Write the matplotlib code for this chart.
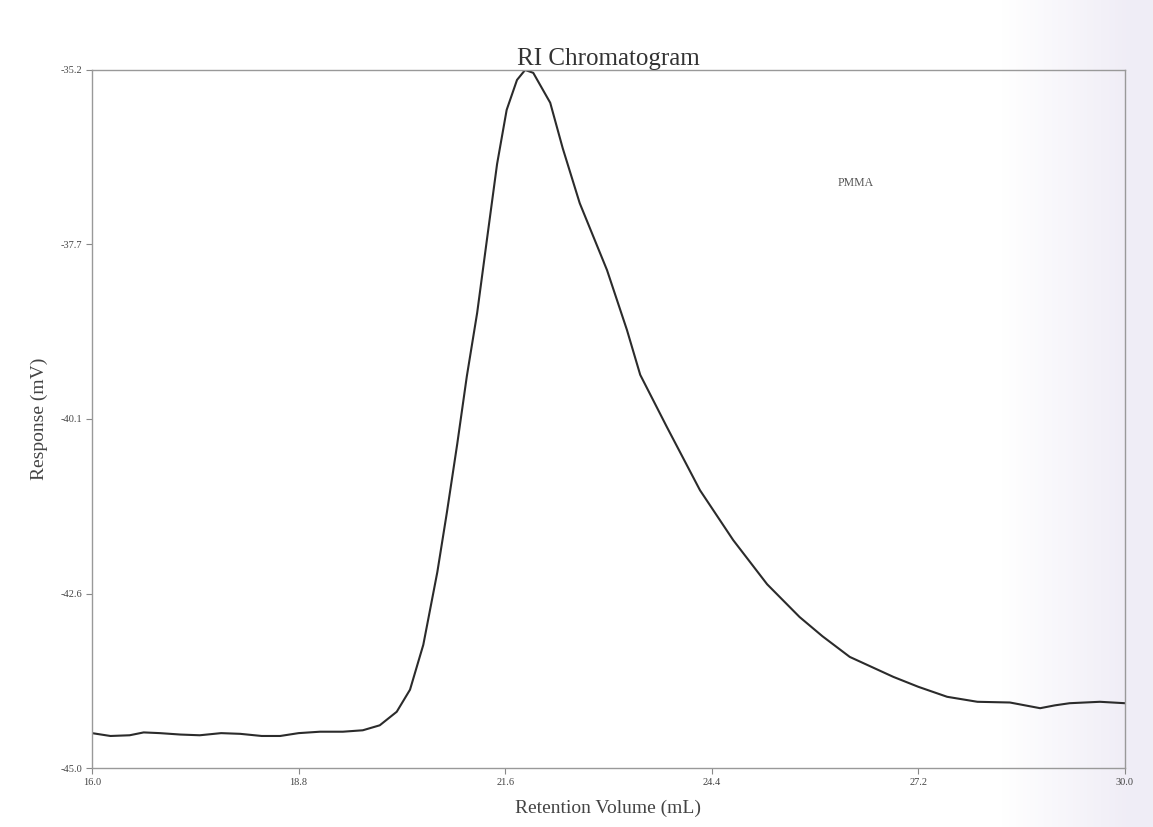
import numpy as np
import matplotlib
matplotlib.use("Agg")
import matplotlib.pyplot as plt

# Retention volume (mL) and RI detector response (mV)
volume = [16.00, 16.25, 16.51, 16.70, 16.92, 17.20, 17.46, 17.75, 18.01, 18.30,
          18.55, 18.80, 19.09, 19.40, 19.67, 19.90, 20.13, 20.31, 20.49, 20.68,
          20.81, 20.95, 21.08, 21.22, 21.35, 21.49, 21.62, 21.76, 21.87, 21.98,
          22.21, 22.38, 22.61, 22.98, 23.25, 23.43, 23.79, 24.24, 24.69, 25.15,
          25.59, 25.90, 26.27, 26.86, 27.20, 27.59, 28.00, 28.44, 28.85, 29.05,
          29.25, 29.66, 30.00]
response = [-44.51, -44.55, -44.54, -44.50, -44.51, -44.53, -44.54, -44.51, -44.52, -44.55,
            -44.55, -44.51, -44.49, -44.49, -44.47, -44.40, -44.21, -43.90, -43.27, -42.25,
            -41.41, -40.45, -39.50, -38.61, -37.60, -36.52, -35.76, -35.34, -35.20, -35.24,
            -35.66, -36.30, -37.07, -38.01, -38.85, -39.48, -40.21, -41.10, -41.80, -42.42,
            -42.88, -43.15, -43.44, -43.72, -43.86, -44.00, -44.07, -44.08, -44.16, -44.12,
            -44.09, -44.07, -44.09]

x_ticks = [16.0, 18.8, 21.6, 24.4, 27.2, 30.0]
y_ticks = [-45.0, -42.6, -40.1, -37.7, -35.2]
y_tick_pos = [-45.0, -42.55, -40.1, -37.65, -35.2]

serif = ["Liberation Serif", "DejaVu Serif"]
plt.rcParams["font.family"] = serif

fig = plt.figure(figsize=(11.53, 8.27), dpi=100)
fig.patch.set_facecolor("white")

# soft tint along the right edge of the sheet
bg = fig.add_axes([0, 0, 1, 1], zorder=-10)
grad = np.clip((np.linspace(0, 1, 400) - 0.87) / 0.11, 0, 1)
img = np.ones((1, 400, 3))
img[0, :, 0] -= 0.06 * grad
img[0, :, 1] -= 0.07 * grad
img[0, :, 2] -= 0.035 * grad
bg.imshow(img, aspect="auto", extent=[0, 1, 0, 1])
bg.set_axis_off()

ax = fig.add_axes([0.0798, 0.0713, 0.8959, 0.8441])
ax.patch.set_alpha(0)
ax.plot(volume, response, color="#2b2b2b", lw=1.5)

ax.set_xlim(16.0, 30.0)
ax.set_ylim(-45.0, -35.2)
ax.set_xticks(x_ticks)
ax.set_xticklabels([f"{v:.1f}" for v in x_ticks], fontsize=7.5, color="#444444")
ax.set_yticks(y_tick_pos)
ax.set_yticklabels([f"{v:.1f}" for v in y_ticks], fontsize=7.5, color="#444444")
ax.tick_params(direction="out", length=4, width=0.8, color="#888888", pad=3)
for s in ax.spines.values():
    s.set_color("#999999")
    s.set_linewidth(1.0)

ax.set_title("RI Chromatogram", fontsize=18, color="#333333", pad=2)
ax.set_xlabel("Retention Volume (mL)", fontsize=14, color="#444444", labelpad=9)
ax.set_ylabel("Response (mV)", fontsize=14, color="#444444", labelpad=9)
ax.text(26.11, -36.79, "PMMA", fontsize=8.5, color="#555555", va="center")

fig.savefig("out.png", dpi=100)
